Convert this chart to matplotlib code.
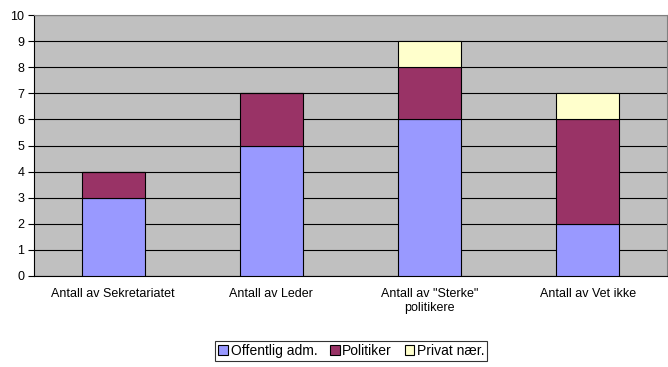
import matplotlib.pyplot as plt
import numpy as np

categories = ["Antall av Sekretariatet", "Antall av Leder",
              "Antall av \"Sterke\"\npolitikere", "Antall av Vet ikke"]
offentlig = [3, 5, 6, 2]
politiker = [1, 2, 2, 4]
privat = [0, 0, 1, 1]
series_names = ["Offentlig adm.", "Politiker", "Privat nær."]
colors = ["#9999FF", "#993366", "#FFFFCC"]

plt.rcParams["font.family"] = ["Liberation Sans", "DejaVu Sans"]

fig = plt.figure(figsize=(6.68, 3.67), dpi=100)
ax = fig.add_axes([0.051, 0.248, 0.947, 0.711])
ax.set_facecolor("#C0C0C0")

x = np.arange(len(categories))
bottom = np.zeros(len(categories))
handles = []
for vals, name, col in zip([offentlig, politiker, privat], series_names, colors):
    h = ax.bar(x, vals, width=0.4, bottom=bottom, color=col,
               edgecolor="black", linewidth=0.8, label=name, zorder=3)
    handles.append(h)
    bottom += np.array(vals)

ax.set_xlim(-0.5, len(categories) - 0.5)
ax.set_ylim(0, 10)
ax.set_yticks(range(0, 11))
ax.yaxis.grid(True, color="black", linewidth=0.8, zorder=0)
ax.set_axisbelow(True)
ax.set_xticks(x)
ax.set_xticklabels(categories, fontsize=9, linespacing=1.15)
ax.tick_params(axis="x", length=0, pad=9)
ax.tick_params(axis="y", labelsize=9, length=4, width=0.8, direction="out", pad=3)
for side in ["top", "right"]:
    ax.spines[side].set_color("#808080")
ax.spines["left"].set_color("black")
ax.spines["bottom"].set_color("black")

leg = fig.legend(handles=handles, labels=series_names, loc="center",
                 bbox_to_anchor=(0.526, 0.044), ncol=3, fontsize=10,
                 frameon=True, fancybox=False, handlelength=0.7,
                 handleheight=0.7, handletextpad=0.2, columnspacing=0.9,
                 borderpad=0.2, borderaxespad=0)
leg.get_frame().set_edgecolor("black")
leg.get_frame().set_linewidth(0.8)

fig.savefig("out.png", dpi=100)
